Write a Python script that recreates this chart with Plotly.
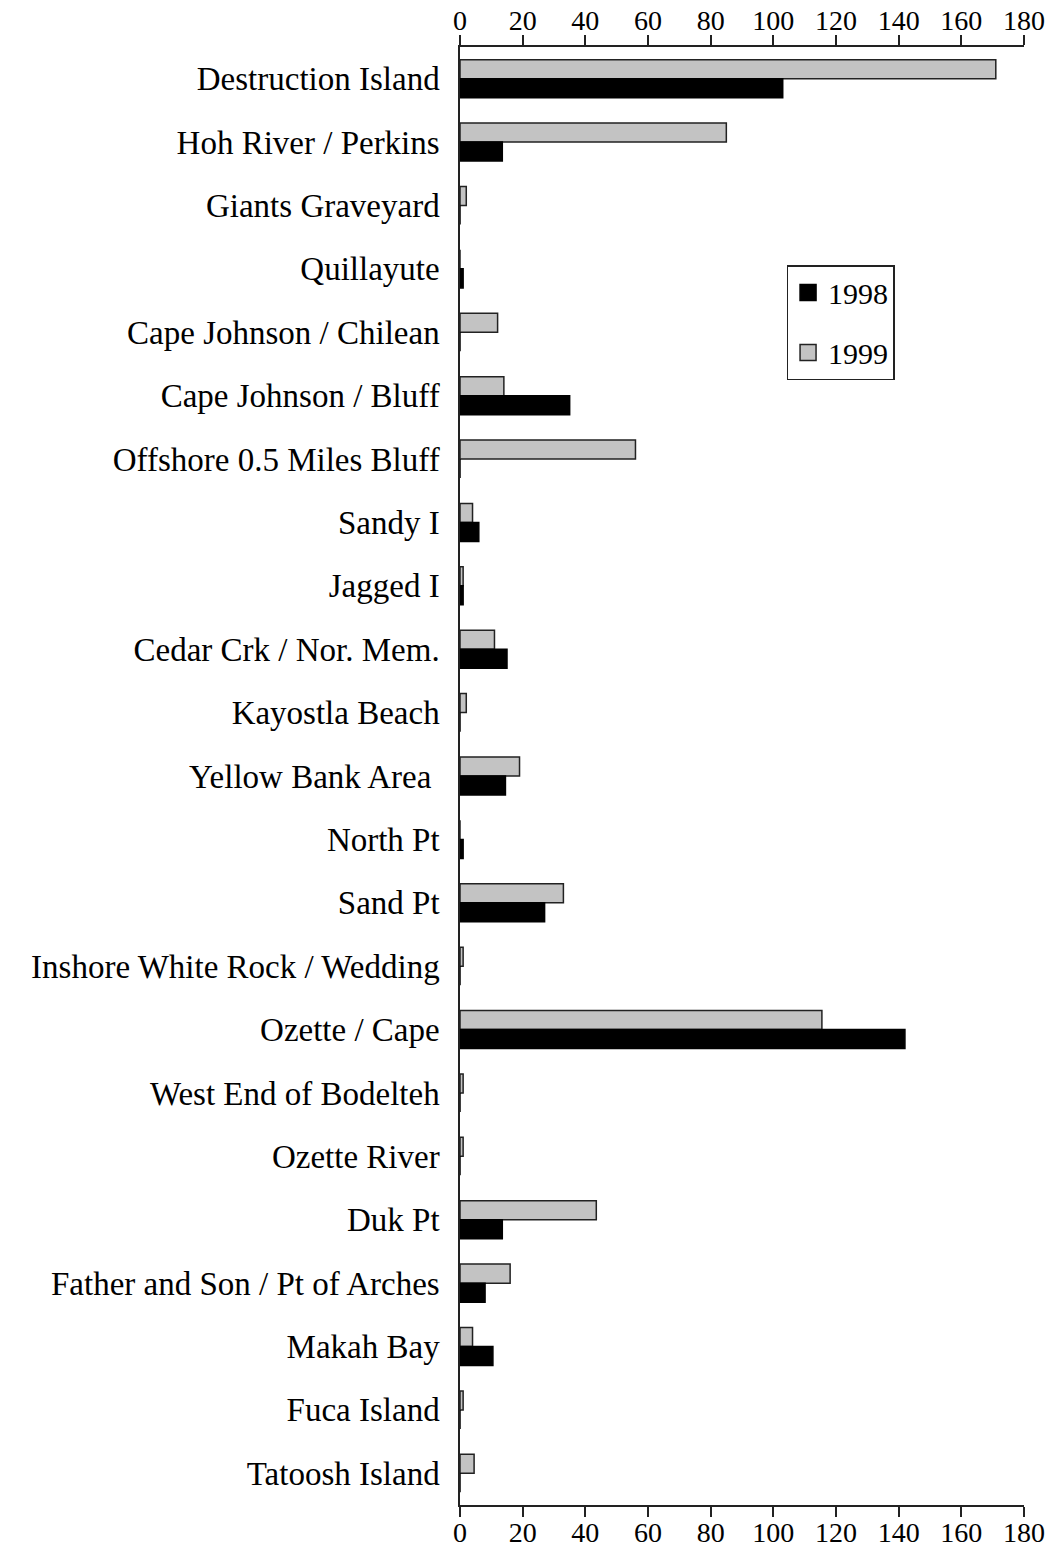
import plotly.graph_objects as go

sites = [
    "Destruction Island", "Hoh River / Perkins", "Giants Graveyard", "Quillayute",
    "Cape Johnson / Chilean", "Cape Johnson / Bluff", "Offshore 0.5 Miles Bluff",
    "Sandy I", "Jagged I", "Cedar Crk / Nor. Mem.", "Kayostla Beach",
    "Yellow Bank Area ", "North Pt", "Sand Pt", "Inshore White Rock / Wedding",
    "Ozette / Cape", "West End of Bodelteh", "Ozette River", "Duk Pt",
    "Father and Son / Pt of Arches", "Makah Bay", "Fuca Island", "Tatoosh Island",
]
y1999 = [171, 85, 2, 0, 12, 14, 56, 4, 1, 11, 2, 19, 0, 33, 1, 115.5, 1, 1, 43.5, 16, 4, 1, 4.5]
y1998 = [103, 13.5, 0, 1, 0, 35, 0, 6, 1, 15, 0, 14.5, 1, 27, 0, 142, 0, 0, 13.5, 8, 10.5, 0, 0]
xticks = [0, 20, 40, 60, 80, 100, 120, 140, 160, 180]

FONT = "Liberation Serif, Times New Roman, serif"
GRAY = "#c3c3c3"
EDGE = "#222222"

fig = go.Figure()
fig.add_trace(go.Bar(
    y=sites, x=y1999, orientation="h", name="1999",
    marker=dict(color=GRAY, line=dict(color=EDGE, width=1.5)),
    showlegend=False,
))
fig.add_trace(go.Bar(
    y=sites, x=y1998, orientation="h", name="1998",
    marker=dict(color="#000000", line=dict(color="#000000", width=1.5)),
    showlegend=False,
))
# legend entries (larger square swatches than bar legend icons)
fig.add_trace(go.Scatter(
    x=[None], y=[None], mode="markers", name="1998", legendgroup="a", legendrank=1,
    marker=dict(symbol="square", size=16, color="#000000", line=dict(color="#000", width=1.5)),
))
fig.add_trace(go.Scatter(
    x=[None], y=[None], mode="markers", name="1999", legendgroup="b", legendrank=2,
    marker=dict(symbol="square", size=16, color=GRAY, line=dict(color=EDGE, width=1.5)),
))
# empty trace to carry the bottom axis
fig.add_trace(go.Scatter(x=[], y=[], xaxis="x2", showlegend=False, hoverinfo="skip"))

axis_common = dict(
    range=[0, 180], tickvals=xticks, ticks="outside", ticklen=10, tickwidth=1.5,
    tickcolor="#222", showline=True, linecolor="#222", linewidth=1.5,
    showgrid=False, zeroline=False, automargin=False,
    tickfont=dict(family=FONT, size=28, color="black"),
)

fig.update_layout(
    width=1056, height=1552,
    margin=dict(l=460, r=32, t=47, b=47),
    paper_bgcolor="white", plot_bgcolor="white",
    barmode="group", bargap=0.4, bargroupgap=0,
    font=dict(family=FONT, size=30, color="black"),
    xaxis=dict(side="top", ticklabelstandoff=-6, **axis_common),
    xaxis2=dict(side="bottom", overlaying="x", anchor="y", matches="x",
                ticklabelstandoff=-8, **axis_common),
    yaxis=dict(
        autorange="reversed", showline=True, linecolor="#222", linewidth=1.5,
        ticks="", showgrid=False, zeroline=False, ticklabelstandoff=12, automargin=False,
        tickfont=dict(family=FONT, size=33, color="black"),
    ),
    legend=dict(
        x=0.579, y=0.8504, xanchor="left", yanchor="top",
        bordercolor="#222", borderwidth=1.5, bgcolor="white",
        font=dict(family=FONT, size=30, color="black"),
        tracegroupgap=18, itemwidth=30, itemsizing="trace",
    ),
)

fig.write_html("out.html")
